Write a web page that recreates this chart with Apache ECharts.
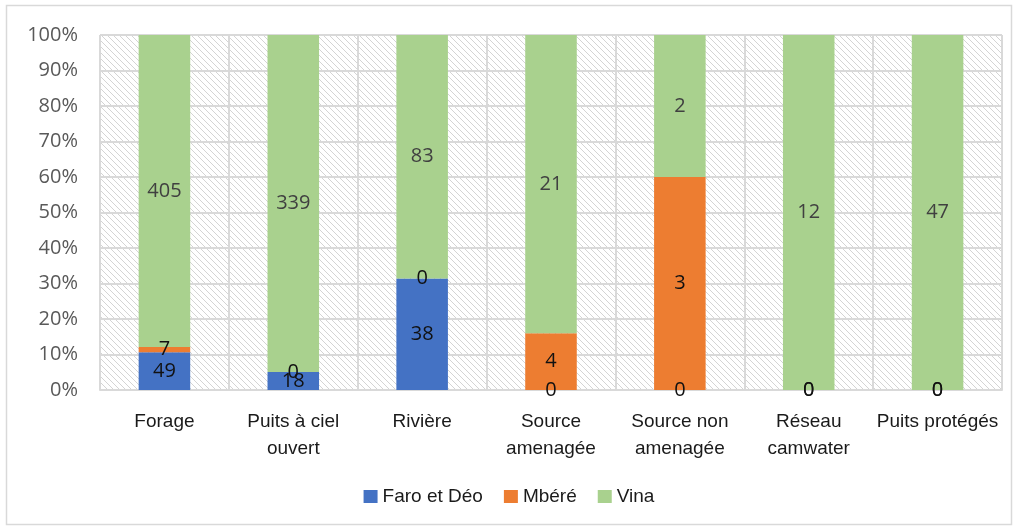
<!DOCTYPE html>
<html>
<head>
<meta charset="utf-8">
<script src="https://cdn.jsdelivr.net/npm/echarts@6/dist/echarts.min.js"></script>
<style>
  html, body { margin: 0; padding: 0; background: #fff; }
  #chart { width: 1018px; height: 531px; }
</style>
</head>
<body>
<div id="chart"></div>
<script>
// sources d'eau par département
const categories = ['Forage', 'Puits à ciel\nouvert', 'Rivière', 'Source\namenagée', 'Source non\namenagée', 'Réseau\ncamwater', 'Puits protégés']
const faroDeo = [49, 18, 38, 0, 0, 0, 0]
const mbere = [7, 0, 0, 4, 3, 0, 0]
const vina = [405, 339, 83, 21, 2, 12, 47]
const yTicks = [0, 10, 20, 30, 40, 50, 60, 70, 80, 90, 100]

const totals = categories.map((_, i) => faroDeo[i] + mbere[i] + vina[i])
const pct = (arr) => arr.map((v, i) => (v / totals[i]) * 100)

// motif hachuré du fond
function hatch() {
  const c = document.createElement('canvas')
  c.width = 6
  c.height = 6
  const ctx = c.getContext('2d')
  ctx.fillStyle = '#ffffff'
  ctx.fillRect(0, 0, 6, 6)
  ctx.strokeStyle = '#d4d4d4'
  ctx.lineWidth = 1
  ctx.beginPath()
  ctx.moveTo(-1, -1); ctx.lineTo(7, 7)
  ctx.moveTo(-1, 5); ctx.lineTo(1, 7)
  ctx.moveTo(5, -1); ctx.lineTo(7, 1)
  ctx.stroke()
  return c
}

const chart = echarts.init(document.getElementById('chart'), null, { renderer: 'canvas' })

const label = (raw, color) => ({
  show: true,
  position: 'inside',
  color,
  fontSize: 20,
  fontFamily: 'Open Sans',
  formatter: (p) => String(raw[p.dataIndex]),
})

const mkSeries = (name, raw, color, labelColor) => ({
  name,
  type: 'bar',
  stack: 'total',
  barWidth: '40%',
  data: pct(raw),
  itemStyle: { color },
  label: label(raw, labelColor),
})

chart.setOption({
  animation: false,
  graphic: [{
    type: 'rect',
    shape: { x: 6.5, y: 5.5, width: 1005, height: 519 },
    style: { fill: 'none', stroke: '#d9d9d9', lineWidth: 1.5 },
    z: -10,
  }],
  grid: {
    left: 100, right: 16, top: 35, bottom: 141,
    show: true,
    borderWidth: 0,
    backgroundColor: { image: hatch(), repeat: 'repeat' },
  },
  legend: {
    bottom: 20,
    left: 'center',
    itemWidth: 14,
    itemHeight: 13,
    itemGap: 21,
    icon: 'rect',
    textStyle: { color: '#1a1a1a', fontSize: 19, fontFamily: 'Liberation Sans' },
    data: ['Faro et Déo', 'Mbéré', 'Vina'],
  },
  xAxis: {
    type: 'category',
    data: categories,
    axisLine: { lineStyle: { color: '#d9d9d9', width: 2 } },
    axisTick: { show: false },
    splitLine: { show: true, lineStyle: { color: '#d9d9d9', width: 2 } },
    axisLabel: {
      color: '#1a1a1a', fontSize: 19, fontFamily: 'Liberation Sans',
      lineHeight: 27, margin: 18, interval: 0,
    },
  },
  yAxis: {
    type: 'value',
    min: yTicks[0],
    max: yTicks[yTicks.length - 1],
    interval: 10,
    axisLine: { show: false },
    axisTick: { show: false },
    splitLine: { lineStyle: { color: '#d9d9d9', width: 2 } },
    axisLabel: {
      color: '#595959', fontSize: 20, fontFamily: 'Open Sans', margin: 22,
      formatter: (v) => v + '%',
    },
  },
  series: [
    mkSeries('Faro et Déo', faroDeo, '#4472c4', '#111111'),
    mkSeries('Mbéré', mbere, '#ed7d31', '#111111'),
    mkSeries('Vina', vina, '#a9d18e', '#404040'),
  ],
})

window.addEventListener('resize', () => chart.resize())
</script>
</body>
</html>
